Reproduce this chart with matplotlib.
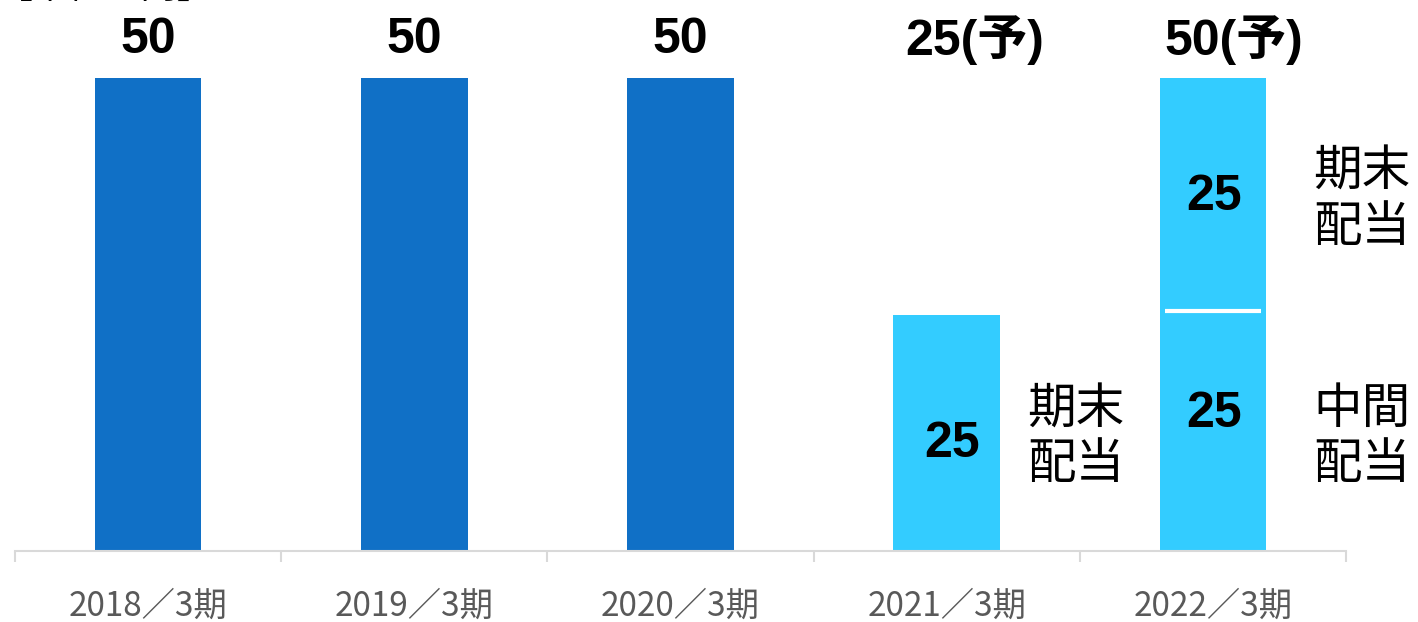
"""Dividend per share chart (interim / year-end)."""
import matplotlib
matplotlib.use("Agg")
import matplotlib.pyplot as plt
import numpy as np

periods = ["2018／3期", "2019／3期", "2020／3期", "2021／3期", "2022／3期"]
interim = [50, 50, 50, 0, 25]     # lower segment (通期 / 中間)
year_end = [0, 0, 0, 25, 25]      # upper segment (期末)
totals = ["50", "50", "50", "25(予)", "50(予)"]
dark = "#1070C6"
light = "#33CCFF"

cjk = ["Noto Sans CJK JP", "DejaVu Sans"]
bold = ["Liberation Sans", "Noto Sans CJK JP", "DejaVu Sans"]

fig = plt.figure(figsize=(14.18, 6.22), dpi=100)
ax = fig.add_axes([15 / 1418, 1 - 551 / 622, 1331 / 1418, 551 / 622])
x = np.arange(len(periods))
w = 0.4

# bottom segments: full-year bars for past periods, interim for 2022
low_col = [dark, dark, dark, light, light]
low_val = [interim[0], interim[1], interim[2], year_end[3], interim[4]]
ax.bar(x, low_val, w, color=low_col, zorder=2)
ax.bar(x[4], year_end[4], w, bottom=interim[4], color=light, zorder=2)
# white divider between stacked parts
ax.hlines(interim[4] + 0.35, x[4] - 0.18, x[4] + 0.18, color="white", lw=3,
          zorder=3)

ax.set_xlim(-0.5, 4.5)
ax.set_ylim(0, 50 * 551 / 473)
for s in ["top", "right", "left"]:
    ax.spines[s].set_visible(False)
ax.spines["bottom"].set_color("#d9d9d9")
ax.spines["bottom"].set_linewidth(1.5)
ax.set_yticks([])
ax.set_xticks(x)
ax.set_xticklabels(periods, family=cjk, fontsize=24, color="#595959")
ax.tick_params(axis="x", which="major", length=0, pad=27)
ax.set_xticks(np.arange(-0.5, 5, 1), minor=True)
ax.tick_params(axis="x", which="minor", length=8, width=1.5,
               color="#d9d9d9")

# totals above bars
offs = [0, 0, 0, 0.106, 0.079]
for i, t in enumerate(totals):
    ax.text(x[i] + offs[i], 54.0, t, ha="center", va="center",
            fontsize=36, fontweight="bold", family=bold)

# values inside bars
ax.text(x[3] + 0.022, 11.3, "25", ha="center", va="center", fontsize=36,
        fontweight="bold", family=bold)
ax.text(x[4] + 0.004, 14.5, "25", ha="center", va="center", fontsize=36,
        fontweight="bold", family=bold)
ax.text(x[4] + 0.004, 37.4, "25", ha="center", va="center", fontsize=36,
        fontweight="bold", family=bold)

# side labels
ax.text(x[3] + 0.486, 12.05, "期末\n配当", ha="center", va="center",
        fontsize=35, family=cjk, linespacing=1.15, clip_on=False)
ax.text(x[4] + 0.56, 37.16, "期末\n配当", ha="center", va="center",
        fontsize=35, family=cjk, linespacing=1.15, clip_on=False)
ax.text(x[4] + 0.56, 12.05, "中間\n配当", ha="center", va="center",
        fontsize=35, family=cjk, linespacing=1.15, clip_on=False)

# unit note, mostly cut off at the top edge
fig.text(-0.002, 1 - 6 / 622, "【単位：円】", ha="left", va="bottom",
         fontsize=26, family=cjk)

fig.savefig("out.png", dpi=100)
